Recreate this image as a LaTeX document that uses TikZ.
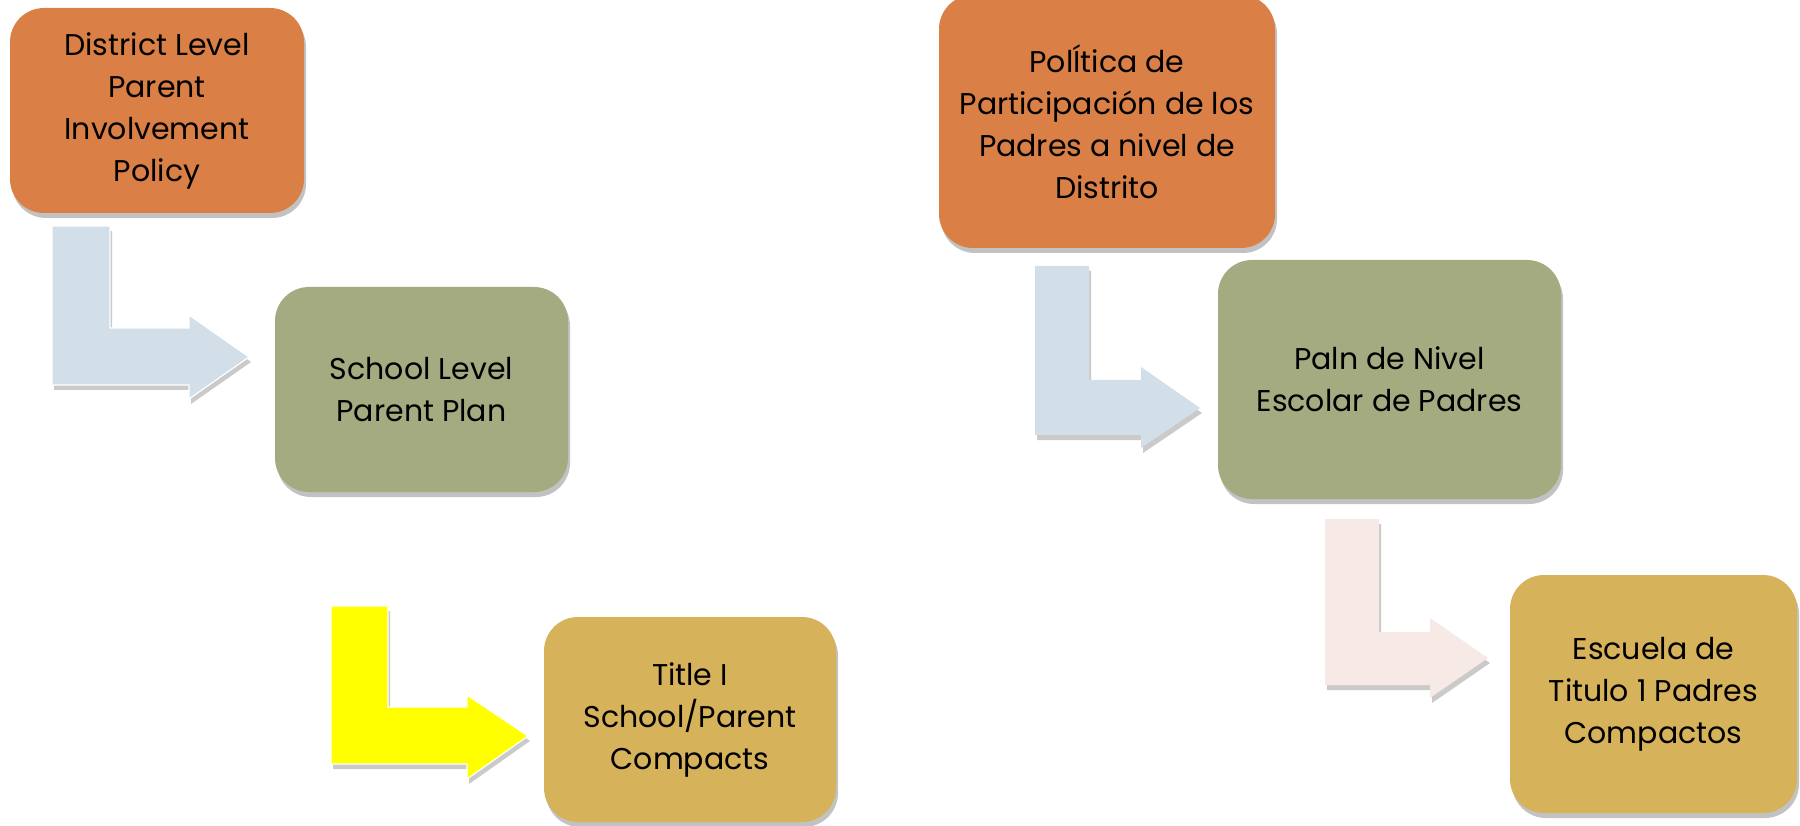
\documentclass[tikz,border=0pt]{standalone}
\usepackage{fontspec}
\setmainfont{Poppins}
\usetikzlibrary{shadows}
\definecolor{orangebox}{HTML}{DA7F46}
\definecolor{greenbox}{HTML}{A4AB80}
\definecolor{goldbox}{HTML}{D6B25A}
\definecolor{bluearrow}{HTML}{D2DEE8}
\definecolor{yellowarrow}{HTML}{FFFF00}
\definecolor{pinkarrow}{HTML}{F7E9E6}
\tikzset{
  box/.style={rounded corners=34pt, align=center, inner sep=0pt,
    font=\fontsize{30}{42}\selectfont, text=black,
    drop shadow={shadow xshift=2pt, shadow yshift=-5pt, opacity=0.4, fill=black!60}},
  bentarrow/.style={draw=white, line width=1.2pt,
    drop shadow={shadow xshift=2pt, shadow yshift=-5pt, opacity=0.35, fill=black!60}}
}
\begin{document}
\begin{tikzpicture}[x=1pt,y=-1pt]
\useasboundingbox (0,0) rectangle (1800,826);
% left column
\node[box, fill=orangebox, minimum width=294pt, minimum height=205pt] (a) at (157,110.5)
  {District Level\\Parent\\Involvement\\Policy};
\node[box, fill=greenbox, minimum width=293pt, minimum height=205pt] (b) at (421.5,389.5)
  {School Level\\Parent Plan};
\node[box, fill=goldbox, minimum width=292pt, minimum height=205pt] (c) at (690,719.5)
  {Title I\\School/Parent\\Compacts};
% right column
\node[box, fill=orangebox, minimum width=336pt, minimum height=253pt] (d) at (1107,121.5)
  {PolÍtica de\\Participación de los\\Padres a nivel de\\Distrito};
\node[box, fill=greenbox, minimum width=343pt, minimum height=239pt] (e) at (1389.5,379.5)
  {Paln de Nivel\\Escolar de Padres};
\node[box, fill=goldbox, minimum width=287pt, minimum height=238pt] (f) at (1653.5,694)
  {Escuela de\\Titulo 1 Padres\\Compactos};
% bent arrows
\path[bentarrow, fill=bluearrow] (52,226) -- (110,226) -- (110,328) -- (189,328) -- (189,315)
  -- (249,357) -- (189,399) -- (189,385) -- (52,385) -- cycle;
\path[bentarrow, fill=yellowarrow] (331,606) -- (388,606) -- (388,707) -- (467,707) -- (467,695)
  -- (528,736) -- (467,779) -- (467,764) -- (331,764) -- cycle;
\path[bentarrow, draw=none, fill=bluearrow] (1035,266) -- (1089,266) -- (1089,380) -- (1141,380) -- (1141,367)
  -- (1200,408) -- (1141,448) -- (1141,435) -- (1035,435) -- cycle;
\path[bentarrow, draw=none, fill=pinkarrow] (1325,519) -- (1379,519) -- (1379,632) -- (1430,632) -- (1430,618)
  -- (1488,658) -- (1430,698) -- (1430,685) -- (1325,685) -- cycle;
\end{tikzpicture}
\end{document}
